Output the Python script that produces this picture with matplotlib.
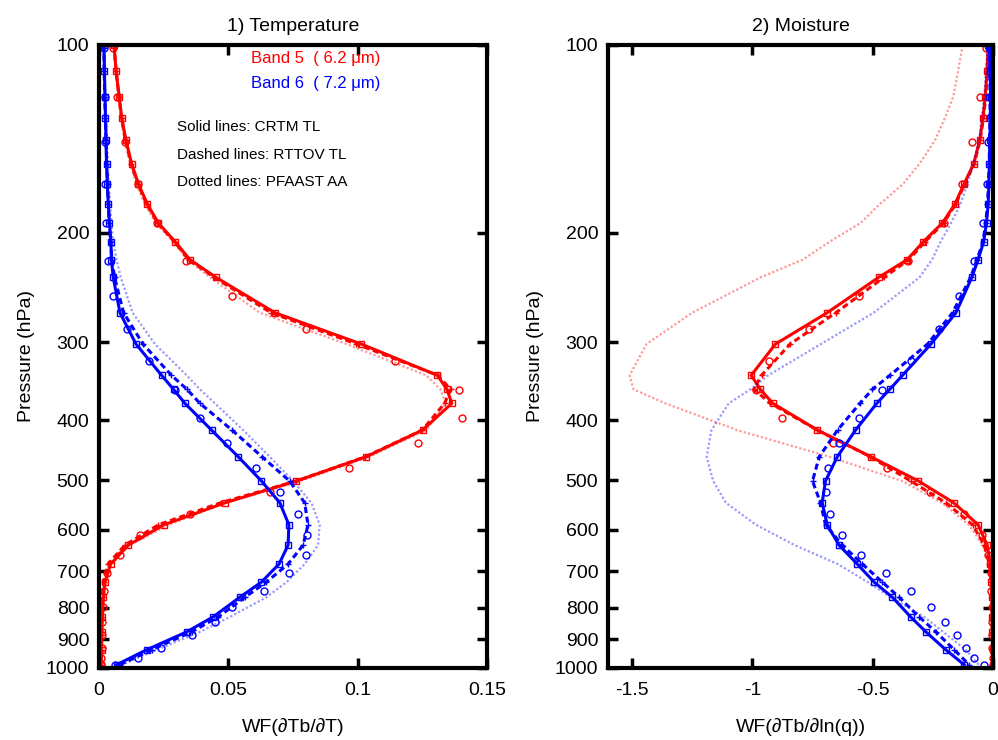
import matplotlib
matplotlib.use('Agg')
import matplotlib.pyplot as plt
from matplotlib.ticker import FixedLocator, FixedFormatter, NullLocator

plt.rcParams['font.family'] = ['Liberation Sans', 'DejaVu Sans']

# pressure levels (hPa) for the line profiles
pres = [100, 110, 121, 131, 142, 155, 167, 180, 193, 207, 221, 236, 269, 302, 339,
        357, 376, 415, 458, 501, 543, 589, 635, 681, 728, 770, 828, 875, 935, 988]
# pressure levels for the open-circle points
pres_circ = [101, 121, 143, 167, 193, 222, 253, 286, 321, 358, 397, 436, 478, 521,
             566, 612, 658, 705, 752, 798, 844, 886, 928, 962, 989]

# ---- 1) Temperature jacobians ----
t_b5_crtm = [0.0058, 0.0066, 0.0078, 0.0088, 0.0104, 0.0126, 0.0152, 0.0187, 0.0229, 0.0295,
             0.0351, 0.0452, 0.068, 0.1014, 0.1308, 0.1345, 0.1364, 0.1251, 0.1033, 0.0763,
             0.0487, 0.0251, 0.0113, 0.0045, 0.0023, 0.0017, 0.0013, 0.0011, 0.001, 0.0009]
t_b5_rttov = [0.0058, 0.0066, 0.0077, 0.0087, 0.0102, 0.0124, 0.015, 0.0184, 0.0226, 0.0292,
              0.0346, 0.0445, 0.0665, 0.0995, 0.131, 0.1359, 0.1336, 0.125, 0.103, 0.0763,
              0.047, 0.023, 0.010, 0.0035, 0.0018, 0.0014, 0.0011, 0.001, 0.0009, 0.0008]
t_b5_pfaast = [0.0058, 0.0064, 0.0075, 0.0085, 0.0098, 0.012, 0.0144, 0.0177, 0.0218, 0.0287,
               0.034, 0.0429, 0.0622, 0.0956, 0.1265, 0.132, 0.134, 0.1265, 0.1046, 0.078,
               0.049, 0.027, 0.012, 0.005, 0.0025, 0.0018, 0.0014, 0.0012, 0.001, 0.0009]
t_b5_circ = [0.0055, 0.007, 0.0100, 0.0149, 0.0223, 0.0335, 0.0516, 0.0802, 0.1146, 0.1390,
             0.1404, 0.1233, 0.0965, 0.066, 0.035, 0.016, 0.008, 0.003, 0.002, 0.0015,
             0.0012, 0.001, 0.001, 0.0009, 0.0009]

t_b6_crtm = [0.0019, 0.0021, 0.0023, 0.0025, 0.0027, 0.0029, 0.0032, 0.0036, 0.004, 0.0046,
             0.0048, 0.0055, 0.0081, 0.0143, 0.0242, 0.0288, 0.0332, 0.0435, 0.0538, 0.0628,
             0.0699, 0.0734, 0.0731, 0.0696, 0.0628, 0.0544, 0.0441, 0.0339, 0.0184, 0.0068]
t_b6_rttov = [0.0019, 0.002, 0.0022, 0.0025, 0.0027, 0.003, 0.0033, 0.0036, 0.004, 0.0045,
              0.005, 0.006, 0.0095, 0.017, 0.028, 0.034, 0.039, 0.0514, 0.063, 0.0737,
              0.0795, 0.0808, 0.0789, 0.0731, 0.0647, 0.0564, 0.0461, 0.0358, 0.0203, 0.0081]
t_b6_pfaast = [0.002, 0.0022, 0.0025, 0.0028, 0.0031, 0.0034, 0.0038, 0.0043, 0.0048, 0.0055,
               0.0068, 0.0084, 0.013, 0.0216, 0.0339, 0.039, 0.0448, 0.0557, 0.066, 0.075,
               0.0821, 0.0853, 0.0847, 0.0795, 0.0725, 0.0647, 0.0506, 0.039, 0.0223, 0.0088]
t_b6_circ = [0.0019, 0.0023, 0.0023, 0.0023, 0.0027, 0.0036, 0.0055, 0.0107, 0.0194, 0.0293,
             0.039, 0.0493, 0.0605, 0.0699, 0.077, 0.0806, 0.0799, 0.0735, 0.0637, 0.0516,
             0.045, 0.036, 0.024, 0.015, 0.0062]

# ---- 2) Moisture jacobians ----
q_b5_crtm = [-0.02, -0.025, -0.032, -0.042, -0.055, -0.080, -0.12, -0.158, -0.21, -0.29,
             -0.356, -0.475, -0.689, -0.904, -1.005, -0.967, -0.915, -0.73, -0.508, -0.31,
             -0.163, -0.062, -0.024, -0.011, -0.007, -0.005, -0.004, -0.003, -0.002, -0.002]
q_b5_rttov = [-0.018, -0.023, -0.03, -0.04, -0.053, -0.078, -0.117, -0.155, -0.205, -0.283,
              -0.349, -0.453, -0.653, -0.843, -0.962, -0.994, -0.925, -0.73, -0.51, -0.342,
              -0.196, -0.085, -0.036, -0.015, -0.008, -0.005, -0.004, -0.003, -0.002, -0.002]
q_b5_pfaast = [-0.126, -0.145, -0.165, -0.2, -0.24, -0.305, -0.373, -0.47, -0.55, -0.68,
               -0.79, -0.965, -1.25, -1.44, -1.51, -1.494, -1.362, -1.064, -0.68, -0.378,
               -0.212, -0.101, -0.042, -0.017, -0.008, -0.005, -0.003, -0.002, -0.002, -0.001]
q_b5_circ = [-0.029, -0.054, -0.089, -0.129, -0.205, -0.355, -0.557, -0.765, -0.929, -0.985,
             -0.876, -0.665, -0.439, -0.26, -0.12, -0.045, -0.02, -0.01, -0.007, -0.005,
             -0.004, -0.003, -0.003, -0.002, -0.002]

q_b6_crtm = [-0.015, -0.012, -0.01, -0.011, -0.013, -0.015, -0.017, -0.02, -0.027, -0.039,
             -0.062, -0.088, -0.154, -0.258, -0.376, -0.429, -0.483, -0.571, -0.647, -0.696,
             -0.71, -0.689, -0.64, -0.564, -0.494, -0.418, -0.342, -0.279, -0.196, -0.12]
q_b6_rttov = [-0.016, -0.013, -0.012, -0.013, -0.014, -0.016, -0.019, -0.023, -0.03, -0.042,
              -0.066, -0.093, -0.168, -0.272, -0.428, -0.501, -0.553, -0.646, -0.722, -0.75,
              -0.717, -0.696, -0.626, -0.543, -0.46, -0.39, -0.307, -0.2375, -0.161, -0.099]
q_b6_pfaast = [-0.022, -0.029, -0.036, -0.047, -0.057, -0.082, -0.106, -0.135, -0.174, -0.218,
               -0.253, -0.305, -0.496, -0.715, -0.934, -1.008, -1.098, -1.17, -1.19, -1.163,
               -1.11, -0.985, -0.825, -0.645, -0.52, -0.425, -0.286, -0.207, -0.113, -0.06]
q_b6_circ = [-0.015, -0.015, -0.02, -0.025, -0.043, -0.078, -0.14, -0.226, -0.342, -0.46,
             -0.557, -0.64, -0.685, -0.696, -0.678, -0.626, -0.547, -0.446, -0.342, -0.258,
             -0.199, -0.151, -0.1125, -0.078, -0.039]

yticks = [100, 200, 300, 400, 500, 600, 700, 800, 900, 1000]


def draw_band(ax, crtm, rttov, pfaast, circ, color):
    ax.plot(pfaast, pres, linestyle=(0, (1, 1)), color=color, lw=1.6, alpha=0.4)
    ax.plot(rttov, pres, linestyle=(0, (2, 1.2)), color=color, lw=2.2,
            marker='+', ms=5, mew=1)
    ax.plot(crtm, pres, '-', color=color, lw=2.2, marker='s', ms=4,
            mfc='none', mew=1)
    ax.plot(circ, pres_circ, 'o', color=color, ms=5, mfc='none', mew=1, ls='none')


def style_axes(ax, xlim, xticks, xticklabels, xlabel, title):
    ax.set_yscale('log')
    ax.set_ylim(1000, 100)
    ax.set_xlim(*xlim)
    ax.yaxis.set_major_locator(FixedLocator(yticks))
    ax.yaxis.set_major_formatter(FixedFormatter([str(t) for t in yticks]))
    ax.yaxis.set_minor_locator(NullLocator())
    ax.set_xticks(xticks)
    ax.set_xticklabels(xticklabels)
    ax.tick_params(direction='in', length=7, width=2.5, labelsize=14,
                   top=True, right=True, pad=7)
    ax.tick_params(axis='x', pad=10)
    for s in ax.spines.values():
        s.set_linewidth(3)
    ax.set_xlabel(xlabel, fontsize=14, labelpad=14)
    ax.set_ylabel('Pressure (hPa)', fontsize=14, labelpad=8)
    ax.set_title(title, fontsize=14, pad=10)


fig = plt.figure(figsize=(9.98, 7.4), dpi=100)
ax1 = fig.add_axes([0.0992, 0.0973, 0.3888, 0.8419])
ax2 = fig.add_axes([0.6092, 0.0973, 0.3858, 0.8419])

draw_band(ax1, t_b5_crtm, t_b5_rttov, t_b5_pfaast, t_b5_circ, 'red')
draw_band(ax1, t_b6_crtm, t_b6_rttov, t_b6_pfaast, t_b6_circ, 'blue')
draw_band(ax2, q_b5_crtm, q_b5_rttov, q_b5_pfaast, q_b5_circ, 'red')
draw_band(ax2, q_b6_crtm, q_b6_rttov, q_b6_pfaast, q_b6_circ, 'blue')

style_axes(ax1, (0, 0.15), [0, 0.05, 0.1, 0.15], ['0', '0.05', '0.1', '0.15'],
           'WF(\u2202Tb/\u2202T)', '1) Temperature')
style_axes(ax2, (-1.6, 0), [-1.5, -1, -0.5, 0], ['-1.5', '-1', '-0.5', '0'],
           'WF(\u2202Tb/\u2202ln(q))', '2) Moisture')

ax1.text(0.0838, 105, 'Band 5  ( 6.2 \u03bcm)', color='red', fontsize=12,
         ha='center', va='center')
ax1.text(0.0838, 115.5, 'Band 6  ( 7.2 \u03bcm)', color='blue', fontsize=12,
         ha='center', va='center')
ax1.text(0.0301, 135.5, 'Solid lines: CRTM TL', fontsize=11, va='center')
ax1.text(0.0301, 150, 'Dashed lines: RTTOV TL', fontsize=11, va='center')
ax1.text(0.0301, 166, 'Dotted lines: PFAAST AA', fontsize=11, va='center')

fig.savefig('out.png', dpi=100)
